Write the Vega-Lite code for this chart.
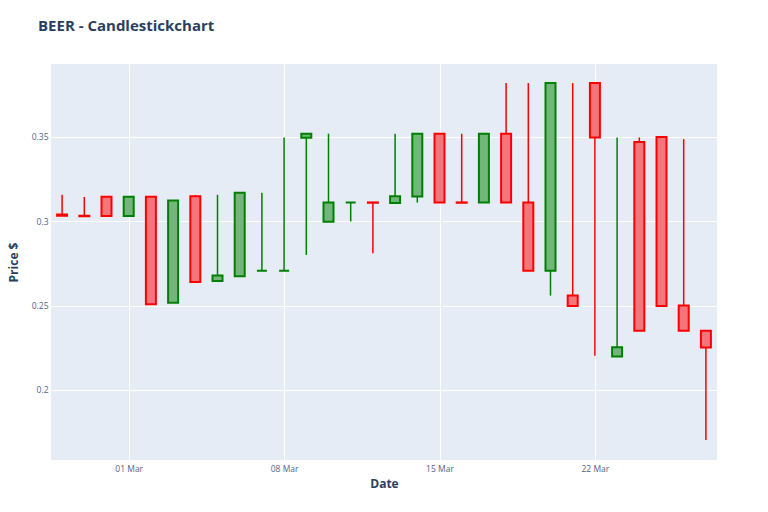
{
  "$schema": "https://vega.github.io/schema/vega-lite/v6.json",
  "width": 666,
  "height": 396,
  "autosize": {"type": "none"},
  "padding": {"left": 51, "top": 64, "right": 51, "bottom": 52},
  "background": "white",
  "title": {"text": "BEER - Candlestickchart", "anchor": "start", "frame": "group", "dx": -13, "offset": 18, "baseline": "alphabetic", "font": "Open Sans", "fontSize": 15, "fontWeight": "bold", "color": "#2a3f5f"},
  "config": {
    "view": {"fill": "#E5ECF6", "stroke": null},
    "axis": {"domain": false, "ticks": false, "gridColor": "white", "gridWidth": 1, "labelFont": "Open Sans", "labelFontSize": 8.5, "labelColor": "#506784", "titleFont": "Open Sans", "titleFontSize": 12, "titleFontWeight": "bold", "titleColor": "#2a3f5f"}
  },
  "data": {"values": [
    {"date": "2021-02-26", "open": 0.3040, "high": 0.3156, "low": 0.3032, "close": 0.3032},
    {"date": "2021-02-27", "open": 0.3032, "high": 0.3143, "low": 0.3029, "close": 0.3029},
    {"date": "2021-02-28", "open": 0.3144, "high": 0.3144, "low": 0.3030, "close": 0.3030},
    {"date": "2021-03-01", "open": 0.3030, "high": 0.3144, "low": 0.3030, "close": 0.3144},
    {"date": "2021-03-02", "open": 0.3144, "high": 0.3144, "low": 0.2508, "close": 0.2508},
    {"date": "2021-03-03", "open": 0.2516, "high": 0.3122, "low": 0.2516, "close": 0.3122},
    {"date": "2021-03-04", "open": 0.3148, "high": 0.3155, "low": 0.2639, "close": 0.2639},
    {"date": "2021-03-05", "open": 0.2646, "high": 0.3156, "low": 0.2646, "close": 0.2678},
    {"date": "2021-03-06", "open": 0.2674, "high": 0.3168, "low": 0.2674, "close": 0.3168},
    {"date": "2021-03-07", "open": 0.2706, "high": 0.3168, "low": 0.2706, "close": 0.2706},
    {"date": "2021-03-08", "open": 0.2706, "high": 0.3496, "low": 0.2706, "close": 0.2706},
    {"date": "2021-03-09", "open": 0.3494, "high": 0.3518, "low": 0.2800, "close": 0.3518},
    {"date": "2021-03-10", "open": 0.2996, "high": 0.3518, "low": 0.2996, "close": 0.3110},
    {"date": "2021-03-11", "open": 0.3110, "high": 0.3110, "low": 0.2998, "close": 0.3110},
    {"date": "2021-03-12", "open": 0.3111, "high": 0.3111, "low": 0.2810, "close": 0.3109},
    {"date": "2021-03-13", "open": 0.3107, "high": 0.3518, "low": 0.3107, "close": 0.3148},
    {"date": "2021-03-14", "open": 0.3146, "high": 0.3518, "low": 0.3110, "close": 0.3518},
    {"date": "2021-03-15", "open": 0.3518, "high": 0.3518, "low": 0.3110, "close": 0.3110},
    {"date": "2021-03-16", "open": 0.3111, "high": 0.3518, "low": 0.3109, "close": 0.3109},
    {"date": "2021-03-17", "open": 0.3110, "high": 0.3518, "low": 0.3110, "close": 0.3518},
    {"date": "2021-03-18", "open": 0.3518, "high": 0.3818, "low": 0.3110, "close": 0.3110},
    {"date": "2021-03-19", "open": 0.3110, "high": 0.3818, "low": 0.2706, "close": 0.2706},
    {"date": "2021-03-20", "open": 0.2706, "high": 0.3818, "low": 0.2559, "close": 0.3818},
    {"date": "2021-03-21", "open": 0.2560, "high": 0.3818, "low": 0.2498, "close": 0.2498},
    {"date": "2021-03-22", "open": 0.3818, "high": 0.3818, "low": 0.2202, "close": 0.3496},
    {"date": "2021-03-23", "open": 0.2198, "high": 0.3496, "low": 0.2198, "close": 0.2253},
    {"date": "2021-03-24", "open": 0.3469, "high": 0.3496, "low": 0.2350, "close": 0.2350},
    {"date": "2021-03-25", "open": 0.3498, "high": 0.3498, "low": 0.2498, "close": 0.2498},
    {"date": "2021-03-26", "open": 0.2500, "high": 0.3486, "low": 0.2350, "close": 0.2350},
    {"date": "2021-03-27", "open": 0.2350, "high": 0.2350, "low": 0.1704, "close": 0.2251}
  ]},
  "encoding": {
    "x": {
      "field": "date", "type": "temporal",
      "scale": {"type": "utc", "padding": 0, "nice": false, "domain": [{"year": 2021, "month": 2, "date": 25, "hours": 12, "utc": true}, {"year": 2021, "month": 3, "date": 27, "hours": 12, "utc": true}]},
      "axis": {"title": "Date", "format": "%d %b", "labelPadding": 4, "labelAngle": 0, "titleY": 23, "titleBaseline": "middle",
        "values": [{"year": 2021, "month": 3, "date": 1, "utc": true}, {"year": 2021, "month": 3, "date": 8, "utc": true}, {"year": 2021, "month": 3, "date": 15, "utc": true}, {"year": 2021, "month": 3, "date": 22, "utc": true}]}
    }
  },
  "layer": [
    {
      "mark": {"type": "rule", "strokeWidth": 1.5},
      "encoding": {
        "y": {"field": "low", "type": "quantitative", "scale": {"domain": [0.1585, 0.3931], "nice": false, "zero": false, "padding": 0},
          "axis": {"title": "Price $", "values": [0.2, 0.25, 0.3, 0.35], "format": "~g", "labelPadding": 3, "titleX": -38, "titleY": 198, "titleAngle": -90, "titleBaseline": "middle", "titleAlign": "center"}},
        "y2": {"field": "high"},
        "color": {"condition": {"test": "datum.close < datum.open", "value": "red"}, "value": "green"}
      }
    },
    {
      "mark": {"type": "bar", "size": 10, "strokeWidth": 2},
      "encoding": {
        "y": {"field": "open", "type": "quantitative"},
        "y2": {"field": "close"},
        "fill": {"condition": {"test": "datum.close < datum.open", "value": "#F2767B"}, "value": "#73B67B"},
        "stroke": {"condition": {"test": "datum.close < datum.open", "value": "red"}, "value": "green"}
      }
    }
  ]
}
